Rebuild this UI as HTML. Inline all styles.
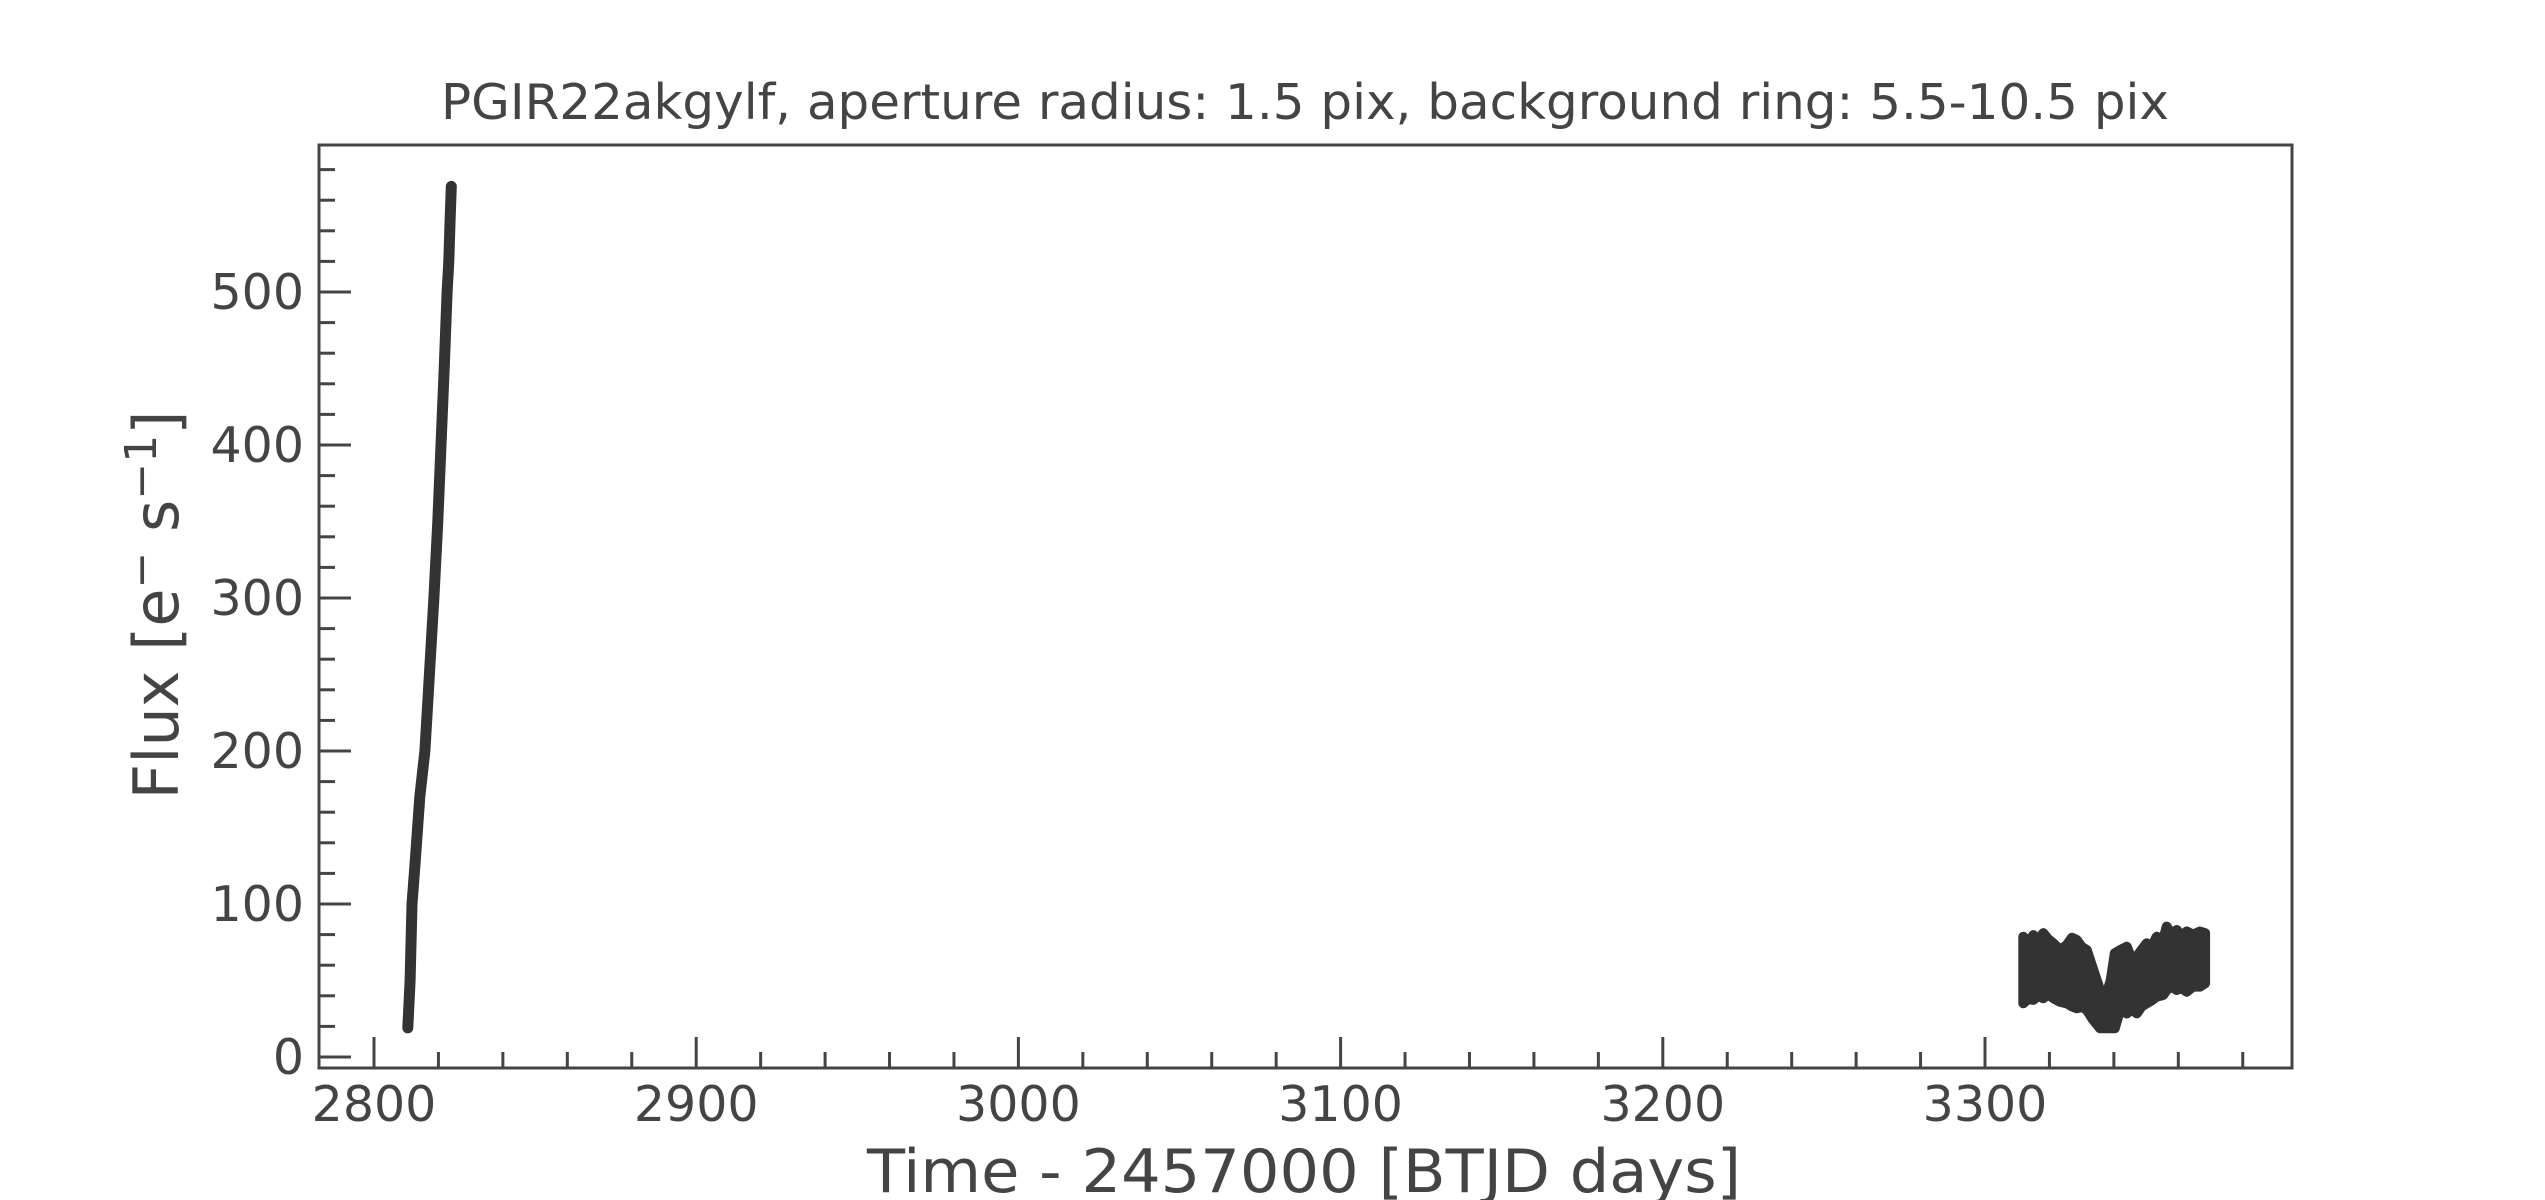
<!DOCTYPE html>
<html><head><meta charset="utf-8"><style>
html,body{margin:0;padding:0;background:#fff;}
svg{display:block;font-family:"DejaVu Sans","Liberation Sans",sans-serif;}
</style></head><body>
<svg id="chart" width="2545" height="1200" xmlns="http://www.w3.org/2000/svg">
<text x="1305" y="119" text-anchor="middle" font-size="49" fill="#444" textLength="1728" lengthAdjust="spacingAndGlyphs">PGIR22akgylf, aperture radius: 1.5 pix, background ring: 5.5-10.5 pix</text>
<g id="plot"></g>
<rect x="319" y="145" width="1973" height="923" fill="none" stroke="#444" stroke-width="3"/>
<g id="xticks"></g>
<g id="yticks"></g>
<text x="1304" y="1192" text-anchor="middle" font-size="60" fill="#444" textLength="874" lengthAdjust="spacingAndGlyphs">Time - 2457000 [BTJD days]</text>
<text transform="translate(178,605) rotate(-90)" text-anchor="middle" font-size="62" fill="#444">Flux [e<tspan dy="-22" font-size="44">−</tspan><tspan dy="22"> s</tspan><tspan dy="-22" font-size="44">−1</tspan><tspan dy="22">]</tspan></text>
</svg>
<script>
const seg1Time = [2810.5, 2811.2, 2811.8, 2812.7, 2814.2, 2815.8, 2817.2, 2818.6, 2819.8, 2820.8, 2821.8, 2822.7, 2823.2, 2823.6, 2824.0];
const seg1Flux = [19, 50, 100, 125, 170, 200, 250, 300, 350, 400, 450, 500, 520, 545, 569];
const seg2Time = [3311.9, 3313.4, 3315.0, 3316.5, 3318.1, 3319.6, 3321.2, 3323.3, 3325.4, 3327.0, 3328.5, 3330.0, 3331.6, 3333.6, 3335.7, 3337.8, 3339.0, 3340.3, 3341.9, 3344.0, 3345.5, 3347.1, 3348.6, 3350.2, 3351.7, 3353.3, 3355.3, 3356.4, 3358.0, 3359.5, 3361.0, 3362.6, 3364.6, 3366.7, 3368.3];
const seg2High = [78.6, 74, 79.7, 76, 81, 77, 74.3, 70, 73.2, 78, 76.5, 72, 69.9, 56.9, 43.8, 41.7, 50, 67.8, 69.9, 72.1, 64, 65.6, 70, 74.3, 72, 78.6, 76.5, 85.2, 80, 83, 79, 82, 80, 82, 81];
const seg2Low = [35.1, 38, 37.3, 40, 38.4, 41, 38.4, 36, 35.1, 33, 31.8, 33, 30.7, 24.2, 18.8, 18.8, 18.8, 18.8, 30.7, 28.5, 31, 28.5, 33, 35.1, 37, 39.4, 40.5, 43.8, 46, 43.8, 45, 42.7, 46, 46, 48.2];
const xMajorTicks = [2800, 2900, 3000, 3100, 3200, 3300];
const yMajorTicks = [0, 100, 200, 300, 400, 500];

const NS = "http://www.w3.org/2000/svg";
function xs(t){ return 374 + (t - 2800) * 3.222; }
function ys(f){ return 1057 - f * 1.53; }
function mk(tag, attrs, parent){ const e = document.createElementNS(NS, tag); for (const k in attrs) e.setAttribute(k, attrs[k]); parent.appendChild(e); return e; }

const plot = document.getElementById('plot');
let d1 = seg1Time.map((t,i)=>(i?'L':'M')+xs(t).toFixed(1)+' '+ys(seg1Flux[i]).toFixed(1)).join(' ');
const p1 = mk('path', {d:d1, fill:'none', stroke:'#333', 'stroke-width':11, 'stroke-linecap':'round', 'stroke-linejoin':'round'}, plot);



let d2 = seg2Time.map((t,i)=>(i?'L':'M')+xs(t).toFixed(1)+' '+ys(seg2High[i]).toFixed(1)).join(' ');
for (let i = seg2Time.length-1; i >= 0; i--) d2 += ' L'+xs(seg2Time[i]).toFixed(1)+' '+ys(seg2Low[i]).toFixed(1);
d2 += ' Z';
const p2 = mk('path', {d:d2, fill:'#333', stroke:'#333', 'stroke-width':10, 'stroke-linejoin':'round'}, plot);



const xg = document.getElementById('xticks');
for (let t = 2800; t <= 3390; t += 20) {
  const major = xMajorTicks.includes(t);
  const x = xs(t);
  const l = mk('line', {x1:x, x2:x, y1:1068, y2:1068-(major?31:16), stroke:'#444', 'stroke-width':3}, xg);
  
  
}
xMajorTicks.forEach(t => {
  const tx = mk('text', {x:xs(t), y:1121, 'text-anchor':'middle', 'font-size':49, fill:'#444'}, xg);
  tx.textContent = t;
  
  
});

const yg = document.getElementById('yticks');
for (let f = 0; f <= 580; f += 20) {
  const major = yMajorTicks.includes(f);
  const y = ys(f);
  const l = mk('line', {x1:319, x2:319+(major?32:16), y1:y, y2:y, stroke:'#444', 'stroke-width':3}, yg);
  
  
}
yMajorTicks.forEach(f => {
  const tx = mk('text', {x:304, y:ys(f)+17, 'text-anchor':'end', 'font-size':49, fill:'#444'}, yg);
  tx.textContent = f;
  
  
});
</script>
</body></html>
